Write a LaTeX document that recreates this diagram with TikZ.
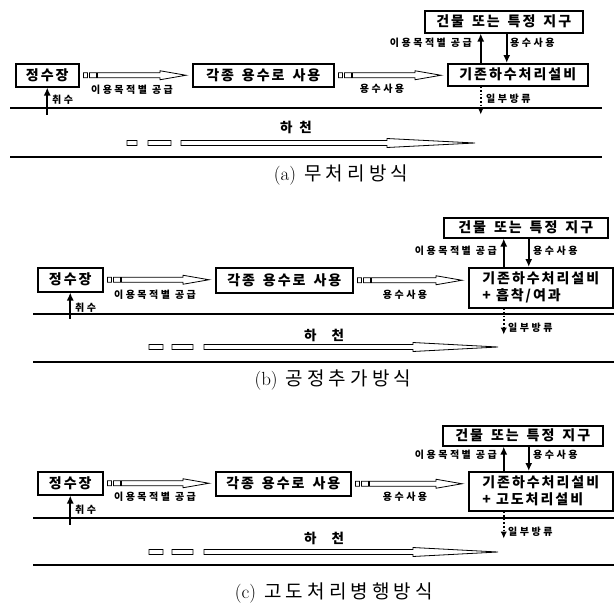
\documentclass[tikz,border=0pt]{standalone}
\usepackage{fontspec}
\usetikzlibrary{arrows.meta,calc}
\newfontfamily\krbox{Noto Sans CJK KR}[LetterSpace=14]
\newfontfamily\krlab{Noto Sans CJK KR}[LetterSpace=25]
\newfontfamily\krriv{Noto Sans CJK KR}
\newfontfamily\krcap{Noto Sans CJK KR}[LetterSpace=22]
\newcommand{\ws}{\hspace{8pt}}
\newcommand{\ls}{\hspace{5pt}}

\tikzset{
  pbox/.style={draw, line width=1.5pt, inner sep=0pt, anchor=north west,
    font=\krbox\bfseries\fontsize{14}{17}\selectfont},
  lab/.style={font=\krlab\bfseries\fontsize{10}{11}\selectfont, inner sep=0pt},
  rivtxt/.style={font=\krriv\bfseries\fontsize{13.5}{15}\selectfont, inner sep=0pt},
  capt/.style={inner sep=0pt, font=\fontsize{19}{21}\selectfont},
  riv/.style={line width=1.7pt},
  varr/.style={line width=1.8pt, -{Latex[length=8pt,width=7pt]}},
  darr/.style={line width=1.6pt, dotted, -{Latex[length=7pt,width=6.5pt]}},
  hol/.style={draw, line width=0.8pt, fill=white},
}

% hollow supply arrow from node #1 (east) to node #2 (west)
\newcommand{\holarrow}[2]{%
  \path[hol] let \p1=(#1.east), \p2=(#2.west) in
    (\x1+4pt,\y1-2.5pt) rectangle (\x1+8pt,\y1+2.5pt)
    (\x1+10pt,\y1-2.5pt) rectangle (\x1+17pt,\y1+2.5pt)
    (\x1+18pt,\y1-2.5pt) -- (\x2-32pt,\y1-2.5pt) -- (\x2-32pt,\y1-4.5pt)
    -- (\x2-6pt,\y1) -- (\x2-32pt,\y1+4.5pt) -- (\x2-32pt,\y1+2.5pt)
    -- (\x1+18pt,\y1+2.5pt) -- cycle;
}
% river flow arrow
\newcommand{\rivarrow}[8]{%
  \path[hol] (#1,#8-2.5) rectangle (#2,#8+2.5)
    (#3,#8-2.5) rectangle (#4,#8+2.5)
    (#5,#8-2.5) -- (#6,#8-2.5) -- (#6,#8-4.5) -- (#7,#8)
    -- (#6,#8+4.5) -- (#6,#8+2.5) -- (#5,#8+2.5) -- cycle;
}

\begin{document}
\begin{tikzpicture}[x=1pt,y=-1pt]
\useasboundingbox (0,0) rectangle (614,606);
\fill[white] (0,0) rectangle (614,606);

% ================= (a)
\draw[riv] (10,108) -- (602,108);
\draw[riv] (10,157) -- (602,157);
\node[pbox, minimum width=63pt, minimum height=23pt] (js1) at (15,63) {정수장};
\node[pbox, minimum width=141pt, minimum height=23pt] (gj1) at (192,63) {각종\ws 용수로\ws 사용};
\node[pbox, minimum width=140pt, minimum height=22pt] (gs1) at (447,63) {기존하수처리설비};
\node[pbox, minimum width=158pt, minimum height=22pt] (bd1) at (424,10) {건물\ws 또는\ws 특정\ws 지구};
\holarrow{js1}{gj1}
\holarrow{gj1}{gs1}
\coordinate (u1) at ([xshift=-37pt]gs1.north);
\coordinate (w1) at ([xshift=-11pt]gs1.north);
\draw[varr] (u1) -- (u1 |- bd1.south);
\draw[varr] (w1 |- bd1.south) -- (w1);
\coordinate (d1s) at ([xshift=-37pt]gs1.south);
\coordinate (d1e) at ([yshift=-28pt]d1s);
\draw[darr] (d1s) -- (d1e);
\coordinate (t1) at ([yshift=-27pt]js1.south);
\draw[varr] (t1) -- (js1.south);
\node[lab, anchor=east] (la1) at (472,43) {이용목적별\ls 공급};
\node[lab, anchor=west] (lb1) at (510,43) {용수사용};
\node[lab, anchor=west] (lc1) at (486,99) {일부방류};
\node[lab, anchor=west] (ld1) at (52,100) {취수};
\node[lab] (le1) at (132,89.5) {이용목적별\ls 공급};
\node[lab] (lf1) at (382,88.5) {용수사용};
\node[rivtxt] (h1) at (296,127) {하\hspace{7pt}천};
\rivarrow{127}{137}{148}{171}{181}{387}{475}{143}
\node[capt] (c1) at (341,175) {(a)\hspace{8pt}{\krcap 무처리방식}};

% ================= (b)
\draw[riv] (33,314) -- (614,314);
\draw[riv] (33,362) -- (614,362);
\node[pbox, minimum width=65pt, minimum height=24pt] (js2) at (37,267) {정수장};
\node[pbox, minimum width=137pt, minimum height=25pt] (gj2) at (215,267) {각종\ws 용수로\ws 사용};
\node[pbox, minimum width=144pt, minimum height=40pt, align=left] (gs2) at (468,267) {기존하수처리설비\\+ 흡착/여과};
\node[pbox, minimum width=164pt, minimum height=20pt] (bd2) at (443,217) {건물\ws 또는\ws 특정\ws 지구};
\holarrow{js2}{gj2}
\holarrow{gj2}{gs2}
\coordinate (u2) at ([xshift=-37pt]gs2.north);
\coordinate (w2) at ([xshift=-12pt]gs2.north);
\draw[varr] (u2) -- (u2 |- bd2.south);
\draw[varr] (w2 |- bd2.south) -- (w2);
\coordinate (d2s) at ([xshift=-37pt]gs2.south);
\coordinate (d2e) at ([yshift=-26pt]d2s);
\draw[darr] (d2s) -- (d2e);
\coordinate (t2) at ([yshift=-26pt]js2.south);
\draw[varr] (t2) -- (js2.south);
\node[lab, anchor=east] (la2) at (497,251) {이용목적별\ls 공급};
\node[lab, anchor=west] (lb2) at (533,251) {용수사용};
\node[lab, anchor=west] (lc2) at (508,328) {일부방류};
\node[lab, anchor=west] (ld2) at (75,308) {취수};
\node[lab] (le2) at (155,295) {이용목적별\ls 공급};
\node[lab] (lf2) at (405,295) {용수사용};
\node[rivtxt] (h2) at (324,335) {하\hspace{15pt}천};
\rivarrow{149}{163}{172}{193}{204}{413}{498}{347}
\node[capt] (c2) at (333,380) {(b)\hspace{8pt}{\krcap 공정추가방식}};

% ================= (c)
\draw[riv] (33,518) -- (614,518);
\draw[riv] (33,565) -- (614,565);
\node[pbox, minimum width=65pt, minimum height=23pt] (js3) at (37,471) {정수장};
\node[pbox, minimum width=135pt, minimum height=24pt] (gj3) at (215,471) {각종\ws 용수로\ws 사용};
\node[pbox, minimum width=144pt, minimum height=39pt, align=left] (gs3) at (468,471) {기존하수처리설비\\+ 고도처리설비};
\node[pbox, minimum width=160pt, minimum height=20pt] (bd3) at (442,425) {건물\ws 또는\ws 특정\ws 지구};
\holarrow{js3}{gj3}
\holarrow{gj3}{gs3}
\coordinate (u3) at ([xshift=-37pt]gs3.north);
\coordinate (w3) at ([xshift=-12pt]gs3.north);
\draw[varr] (u3) -- (u3 |- bd3.south);
\draw[varr] (w3 |- bd3.south) -- (w3);
\coordinate (d3s) at ([xshift=-37pt]gs3.south);
\coordinate (d3e) at ([yshift=-27pt]d3s);
\draw[darr] (d3s) -- (d3e);
\coordinate (t3) at ([yshift=-29pt]js3.south);
\draw[varr] (t3) -- (js3.south);
\node[lab, anchor=east] (la3) at (497,455) {이용목적별\ls 공급};
\node[lab, anchor=west] (lb3) at (533,455) {용수사용};
\node[lab, anchor=west] (lc3) at (508,532) {일부방류};
\node[lab, anchor=west] (ld3) at (75,510) {취수};
\node[lab] (le3) at (155,497) {이용목적별\ls 공급};
\node[lab] (lf3) at (405,497) {용수사용};
\node[rivtxt] (h3) at (324,538) {하\hspace{15pt}천};
\rivarrow{149}{163}{172}{193}{204}{413}{498}{552}
\node[capt] (c3) at (334,593) {(c)\hspace{8pt}{\krcap 고도처리병행방식}};
\end{tikzpicture}
\end{document}
